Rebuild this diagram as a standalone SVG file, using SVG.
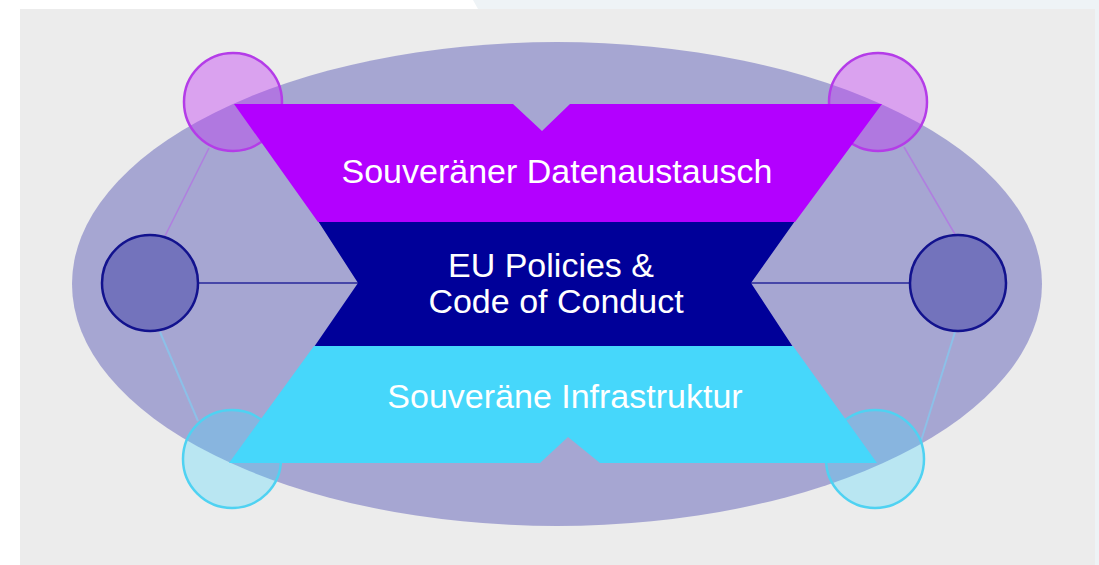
<svg xmlns="http://www.w3.org/2000/svg" width="1099" height="565" viewBox="0 0 1099 565">
  <style>
    .lbl { font-family: "Liberation Sans", Arial, sans-serif; font-size: 34px; fill: #ffffff; text-anchor: middle; }
    .ctop { fill: #c135f6; fill-opacity: 0.4; stroke: #b43ce8; stroke-width: 2.5; }
    .cmid { fill: #7373bc; stroke: #12128e; stroke-width: 2.5; }
    .cbot { fill: #43d8ff; fill-opacity: 0.3; stroke: #4fd2f2; stroke-width: 2.5; }
    .lp { stroke: #b07ee0; stroke-width: 1.5; fill: none; }
    .ln { stroke: #4646a8; stroke-width: 2; fill: none; }
    .lc { stroke: #8cc0e8; stroke-width: 2; fill: none; }
  </style>
  <!-- background -->
  <rect x="0" y="0" width="1099" height="565" fill="#ffffff"/>
  <polygon points="473,0 1099,0 1099,565 1095,565 1095,9 478,9" fill="#eef3f6"/>
  <rect x="20" y="9" width="1075" height="556" fill="#ececec"/>
  <g id="ellipse">
    <ellipse cx="557" cy="284" rx="485" ry="242" fill="#a6a6d2"/>
  </g>
  <g id="connectors">
    <line class="lp" x1="209" y1="148" x2="165" y2="236"/>
    <line class="lp" x1="904" y1="147" x2="956" y2="236"/>
    <line class="ln" x1="198" y1="283" x2="358" y2="283"/>
    <line class="ln" x1="751" y1="283" x2="910" y2="283"/>
    <line class="lc" x1="160" y1="332" x2="198" y2="421"/>
    <line class="lc" x1="955" y1="332" x2="921" y2="441"/>
  </g>
  <g id="circle-top-left"><circle class="ctop" cx="233" cy="102" r="49"/></g>
  <g id="circle-top-right"><circle class="ctop" cx="878" cy="102" r="49"/></g>
  <g id="circle-mid-left"><circle class="cmid" cx="150" cy="283" r="48"/></g>
  <g id="circle-mid-right"><circle class="cmid" cx="958" cy="283" r="48"/></g>
  <g id="circle-bottom-left"><circle class="cbot" cx="232" cy="459" r="49"/></g>
  <g id="circle-bottom-right"><circle class="cbot" cx="875" cy="459" r="49"/></g>
  <g id="band-policies">
    <polygon points="318,221 795,221 751,283 793,347 314,347 358,283" fill="#000099"/>
    <text class="lbl" x="551" y="277">EU Policies &amp;</text>
    <text class="lbl" x="556" y="313">Code of Conduct</text>
  </g>
  <g id="band-datenaustausch">
    <polygon points="234,104 513,104 542,131 570,104 882,104 795,222 318,222" fill="#b300ff"/>
    <text class="lbl" x="557" y="183">Souveräner Datenaustausch</text>
  </g>
  <g id="band-infrastruktur">
    <polygon points="314,346 793,346 877,463 600,463 568,437 540,463 229,463" fill="#46d7fb"/>
    <text class="lbl" x="565" y="408">Souveräne Infrastruktur</text>
  </g>
</svg>
